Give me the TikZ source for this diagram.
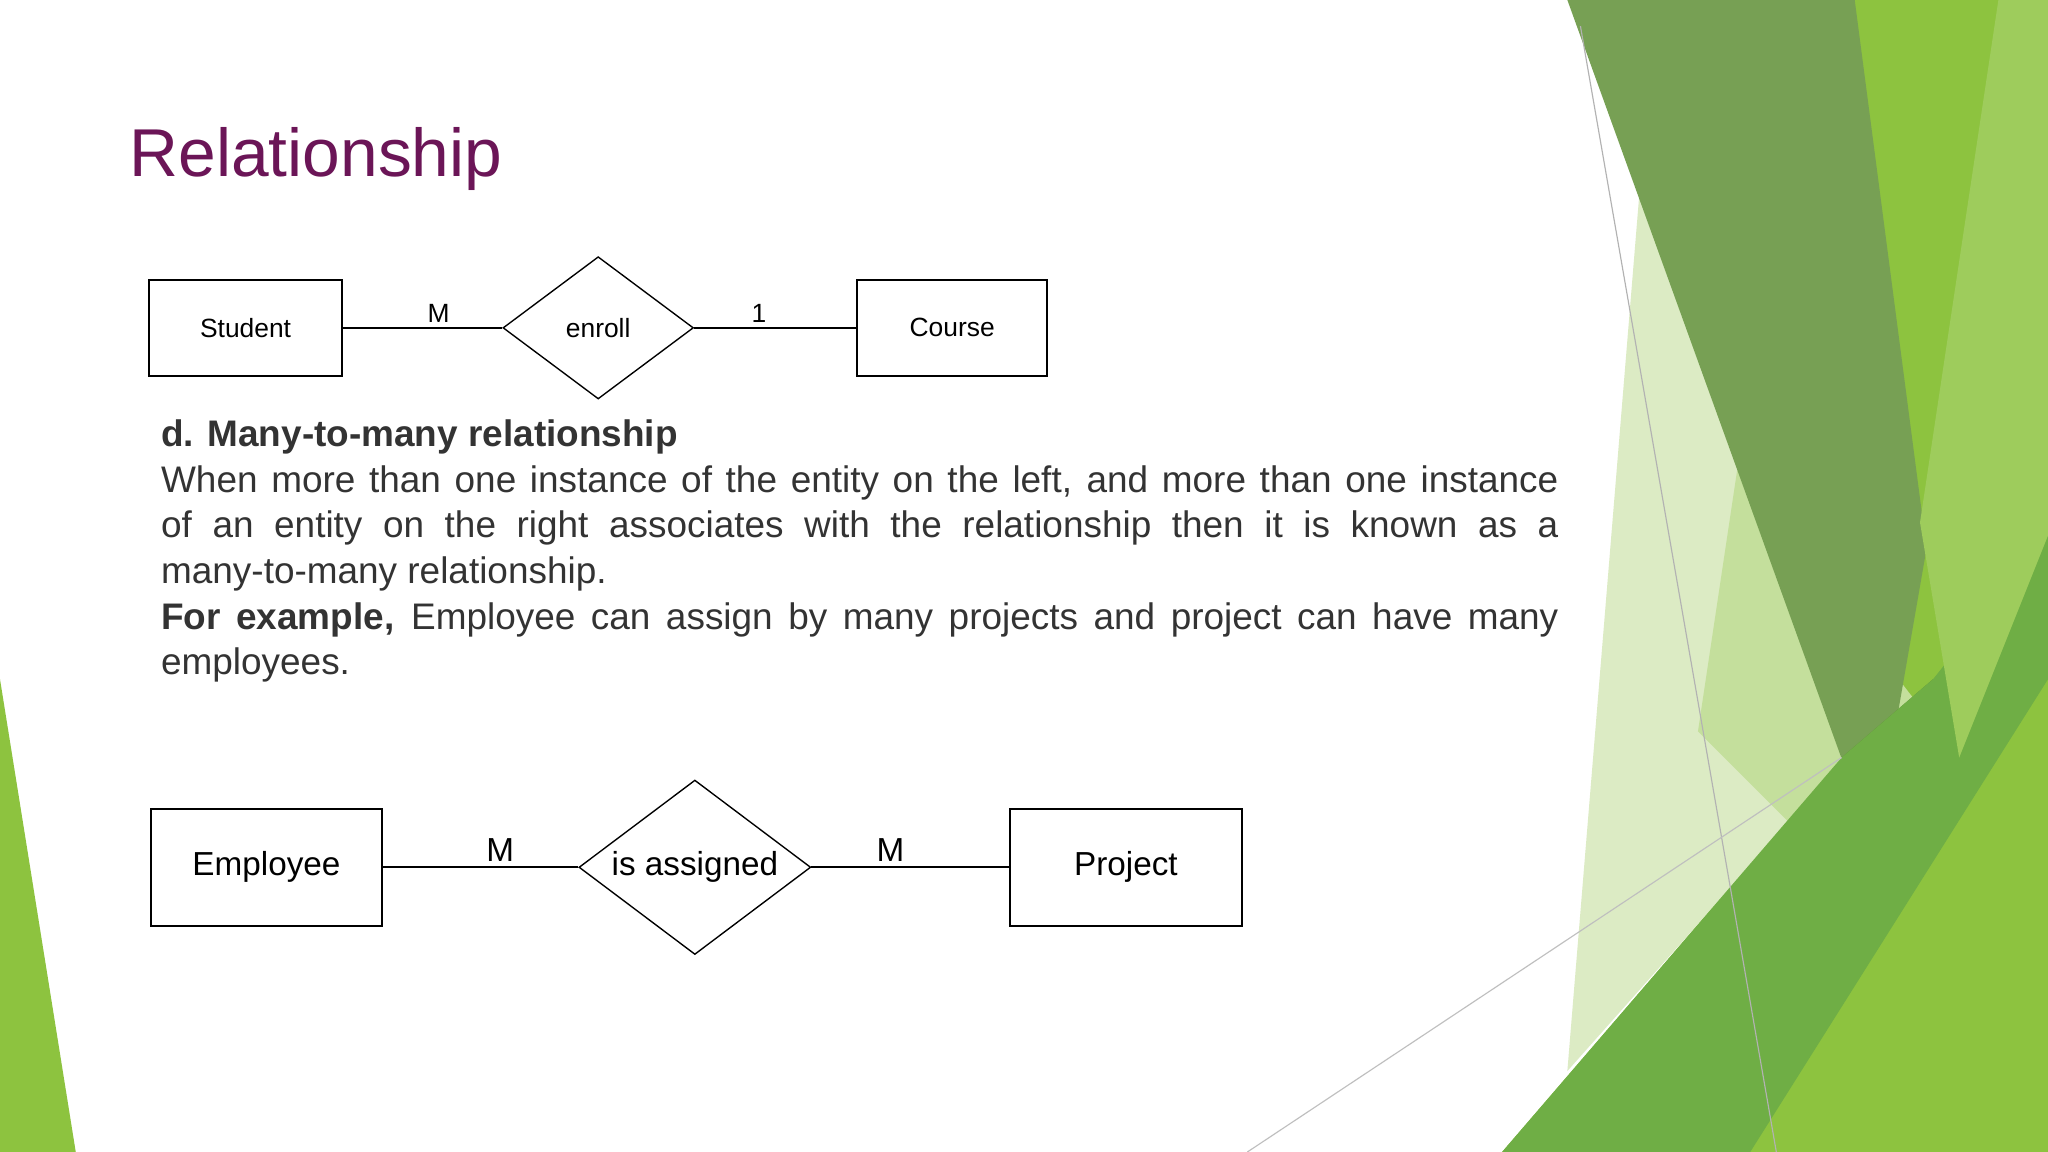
\documentclass[tikz,border=0pt]{standalone}
\usepackage{fontspec}
\setmainfont{Liberation Sans}
\usetikzlibrary{shapes.geometric}
\definecolor{ttl}{HTML}{6B1557}
\definecolor{gA}{HTML}{8DC33F}
\definecolor{gB}{HTML}{77A054}
\definecolor{gC}{HTML}{DCEBC4}
\definecolor{gD}{HTML}{6FAE45}
\definecolor{gE}{HTML}{5A8F32}
\begin{document}
\begin{tikzpicture}[x=0.02cm,y=-0.02cm,
  ent/.style={draw,line width=0.9pt,minimum width=#1,inner sep=0pt},
  rel/.style={draw,diamond,line width=0.6pt,inner sep=0pt,minimum width=#1},
  ln/.style={line width=0.7pt}]
\useasboundingbox (0,0) rectangle (1568,882);
\fill[white] (0,0) rectangle (1568,882);
% background shapes
\fill[gA] (0,520) -- (58,882) -- (0,882) -- cycle;
\fill[gA] (1405,0) -- (1568,0) -- (1568,882) -- (1150,882) -- (1410,580) -- cycle;
\fill[gC] (1255,150) -- (1410,580) -- (1360,640) -- (1200,820) -- cycle;
\fill[gC!70!gA] (1330,360) -- (1500,580) -- (1440,700) -- (1300,560) -- cycle;
\fill[gB] (1200,0) -- (1420,0) -- (1475,420) -- (1435,650) -- cycle;
\fill[gE] (1410,580) -- (1480,520) -- (1435,650) -- cycle;
\fill[gD] (1150,882) -- (1410,580) -- (1480,520) -- (1568,410) -- (1568,520) -- (1340,882) -- cycle;
\fill[gA!85!white] (1530,0) -- (1568,0) -- (1568,410) -- (1500,580) -- (1470,400) -- cycle;
\draw[gray!60,line width=0.5pt] (1210,20) -- (1360,882);
\draw[gray!50,line width=0.5pt] (955,882) -- (1410,580);
% title
\node[anchor=base west,inner sep=0pt,text=ttl,font=\fontsize{29.5pt}{34pt}\selectfont] (title) at (99,135) {Relationship};
% first diagram
\begin{scope}[font=\fontsize{11.5pt}{13pt}\selectfont]
\node[ent=84pt,minimum height=42pt] (stu) at (188,251) {Student};
\node[rel=83pt,minimum height=62pt,aspect=1.33] (enr) at (458,251) {enroll};
\node[ent=83pt,minimum height=42pt] (crs) at (729,251) {Course};
\draw[ln] (stu) -- node[above,pos=0.6,inner sep=2pt]{M} (enr);
\draw[ln] (enr) -- node[above,pos=0.4,inner sep=2pt]{1} (crs);
\end{scope}
% text
\node[anchor=north west,inner sep=0pt,text width=21.4cm,align=justify,text=black!80,
  font=\fontsize{16.1pt}{19.9pt}\selectfont] (body) at (123,321)
{\textbf{d. Many-to-many relationship}\\
When more than one instance of the entity on the left, and more than one instance\linebreak
of an entity on the right associates with the relationship then it is known as a\linebreak
\mbox{many-to-many} relationship.\\
\textbf{For example,} Employee can assign by many projects and project can have many\linebreak
employees.};
% second diagram
\begin{scope}[font=\fontsize{14.5pt}{16pt}\selectfont]
\node[ent=101pt,minimum height=51pt] (emp) at (204,664) {Employee};
\node[rel=101pt,minimum height=76pt,aspect=1.33] (asg) at (532,664) {is assigned};
\node[ent=101pt,minimum height=51pt] (prj) at (862,664) {Project};
\draw[ln] (emp) -- node[above,pos=0.6,inner sep=2pt]{M} (asg);
\draw[ln] (asg) -- node[above,pos=0.4,inner sep=2pt]{M} (prj);
\end{scope}
\end{tikzpicture}
\end{document}
